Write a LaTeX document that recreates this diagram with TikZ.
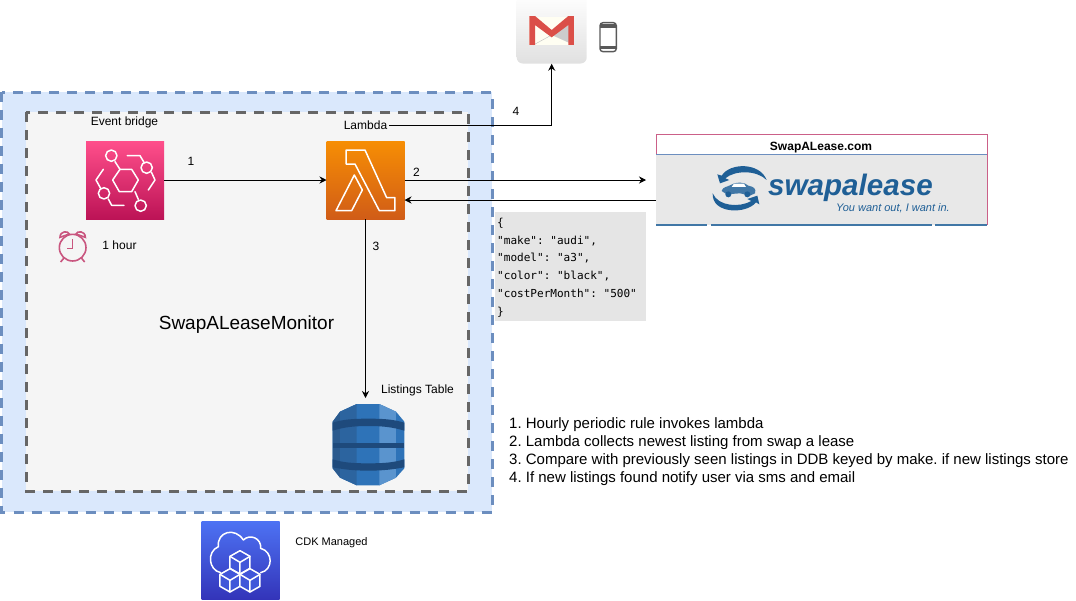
\documentclass[tikz,border=0pt]{standalone}
\usepackage{fontspec}
\usetikzlibrary{arrows.meta}
\setmainfont{Liberation Sans}
\newfontfamily\jsonfont{DejaVu Sans Mono}
\frenchspacing
\definecolor{outerfill}{HTML}{DAE8FC}
\definecolor{outerline}{HTML}{6C8EBF}
\definecolor{innerfill}{HTML}{F5F5F5}
\definecolor{innerline}{HTML}{666666}
\definecolor{clockpink}{HTML}{C9567F}
\definecolor{leaseblue}{HTML}{1F5F96}
\definecolor{bridgetop}{HTML}{FF4F8B}
\definecolor{bridgelow}{HTML}{BC1356}
\definecolor{lambdatop}{HTML}{F78E04}
\definecolor{lambdalow}{HTML}{D05C17}
\definecolor{cdktop}{HTML}{4D72F3}
\definecolor{cdklow}{HTML}{3334B9}
\definecolor{dbdark}{HTML}{2A5A8E}
\definecolor{dbmid}{HTML}{2E73B8}
\definecolor{dblight}{HTML}{5A94CE}
\definecolor{dbband}{HTML}{1E4A7C}
\definecolor{mailred}{HTML}{DB4F48}
\definecolor{sitepink}{HTML}{CB6088}
\tikzset{
  region/.style={line width=3pt,dash pattern=on 10pt off 8pt},
  iconbox/.style={minimum size=78pt,inner sep=0pt,outer sep=0pt},
  label/.style={font=\fontsize{12}{14}\selectfont,inner sep=0pt},
  flow/.style={-{Stealth[length=7pt,width=7pt]},line width=0.9pt},
  glyph/.style={draw=white,line width=1.5pt,line join=round,line cap=round},
  zoomed/.style={x=0.3333pt,y=-0.3333pt},
}
\begin{document}
\begin{tikzpicture}[x=1pt,y=-1pt]
    \useasboundingbox (0,0) rectangle (1076,600);

    % regions
    \draw[region,draw=outerline,fill=outerfill] (1.5,92) rectangle (492,512);
    \draw[region,draw=innerline,fill=innerfill] (26,112) rectangle (468,491);

    % event bridge
    \node[iconbox,top color=bridgetop,bottom color=bridgelow] (bridge) at (125,180) {};
    \begin{scope}[zoomed,shift={(40pt,-100pt)}]
      \draw[glyph] (240,208) -- (275,208) -- (295,240) -- (275,275) -- (238,275) -- (218,240) -- cycle;
      \draw[glyph] (214,167) circle (17);
      \draw[glyph] (320,203) circle (17);
      \draw[glyph] (192,280) circle (17);
      \draw[glyph] (302,317) circle (17);
      \draw[glyph] (225,185) -- (240,208);
      \draw[glyph] (285,275) -- (295,298);
      \draw[glyph] (262,167) -- (300,167) -- (312,187);
      \draw[glyph] (335,218) -- (345,240) -- (325,270);
      \draw[glyph] (190,208) -- (168,240) -- (182,265);
      \draw[glyph] (205,297) -- (215,316) -- (252,316);
    \end{scope}

    % alarm clock
    \begin{scope}[zoomed,shift={(40pt,-100pt)},draw=clockpink,line width=1.6pt]
      \draw (98,443) circle (40);
      \draw (98,418) -- (98,445) -- (80,445);
      \draw (60,412) .. controls (60,392) and (85,392) .. (88,402) -- cycle;
      \draw (136,412) .. controls (136,392) and (111,392) .. (108,402) -- cycle;
      \draw (72,474) -- (62,486);
      \draw (124,474) -- (134,486);
    \end{scope}

    % lambda
    \node[iconbox,top color=lambdatop,bottom color=lambdalow] (lambda) at (365.5,180) {};
    \begin{scope}[zoomed,shift={(310pt,-130pt)}]
      \draw[glyph] (108,60) -- (165,60) -- (230,203) -- (255,203) -- (255,242) -- (208,242) -- (135,102) -- (108,102) -- cycle;
      \draw[glyph] (133,135) -- (157,180) -- (125,242) -- (78,242) -- cycle;
    \end{scope}

    % listings table
    \coordinate (table) at (365.5,398);
    \begin{scope}[zoomed,shift={(310pt,-380pt)}]
      \fill[dbmid] (68,125) -- (90,95) -- (140,72) -- (208,72) -- (258,95) -- (283,125) -- (283,265) -- (258,293) -- (208,316) -- (140,316) -- (90,293) -- (68,265) -- cycle;
      \fill[dbdark] (68,125) -- (90,95) -- (90,293) -- (68,265) -- cycle;
      \fill[dbdark!60!dbmid] (90,95) -- (140,72) -- (140,316) -- (90,293) -- cycle;
      \fill[dblight] (208,72) -- (258,95) -- (258,293) -- (208,316) -- cycle;
      \fill[dbband] (68,128) .. controls (100,118) and (130,116) .. (175,116) .. controls (220,116) and (250,118) .. (283,128) -- (283,152) .. controls (250,142) and (220,138) .. (175,138) .. controls (130,138) and (100,142) .. (68,152) -- cycle;
      \fill[dbband] (68,188) -- (283,188) -- (283,204) -- (68,204) -- cycle;
      \fill[dbband] (68,238) .. controls (100,248) and (130,250) .. (175,250) .. controls (220,250) and (250,248) .. (283,238) -- (283,262) .. controls (250,268) and (220,272) .. (175,272) .. controls (130,272) and (100,268) .. (68,262) -- cycle;
    \end{scope}

    % cdk
    \node[iconbox,top color=cdktop,bottom color=cdklow] (cdk) at (240.5,560.5) {};
    \begin{scope}[zoomed,shift={(190pt,-510pt)}]
      \draw[glyph] (92,188) .. controls (55,180) and (50,125) .. (85,110) .. controls (80,65) and (135,50) .. (160,90) .. controls (180,70) and (215,85) .. (212,115) .. controls (250,125) and (250,180) .. (212,188);
      \foreach \cx/\cy in {150/157,120/211,180/211} {
        \fill[cdktop!55!cdklow,shift={(\cx,\cy)}] (0,-35) -- (30,-18) -- (30,18) -- (0,35) -- (-30,18) -- (-30,-18) -- cycle;
        \draw[glyph,shift={(\cx,\cy)}] (0,-35) -- (30,-18) -- (30,18) -- (0,35) -- (-30,18) -- (-30,-18) -- cycle;
        \draw[glyph,shift={(\cx,\cy)}] (-30,-18) -- (0,0) -- (30,-18) (0,0) -- (0,35);
      }
    \end{scope}

    % mail and phone
    \node[minimum width=70pt,minimum height=70pt,inner sep=0pt,rounded corners=6pt,top color=white,bottom color=black!12] (mail) at (551.7,28.5) {};
    \begin{scope}[zoomed,shift={(500pt,0pt)}]
      \fill[white!95!yellow] (88,50) rectangle (222,135);
      \fill[black!20] (222,65) -- (155,105) -- (222,135) -- cycle;
      \draw[black!25] (100,135) -- (155,105);
      \fill[mailred] (88,48) -- (105,48) -- (155,90) -- (205,48) -- (222,48) -- (222,135) -- (205,135) -- (205,75) -- (155,112) -- (105,75) -- (105,135) -- (88,135) -- cycle;
      \draw[black!65,line width=1.4pt,rounded corners=3pt] (300,68) rectangle (349,155);
      \draw[black!65,line width=3.4pt,rounded corners=2pt] (300,78) -- (349,78) (300,143) -- (349,143);
    \end{scope}

    % website
    \node[minimum width=331pt,minimum height=71pt,inner sep=0pt,fill=black!9] (site) at (821.5,189.5) {};
    \draw[draw=sitepink] (656,154) |- (987,134.5) -- (987,225);
    \draw[draw=outerline] (656,154.5) -- (987,154.5);
    \draw[draw=leaseblue!85,line width=1.2pt] (656,225) -- (707,225) (711,225) -- (932,225) (935,225) -- (987,225);
    \node[inner sep=0pt,font=\bfseries\fontsize{12}{14}\selectfont] (sitename) at (821,148) {SwapALease.com};
    \node[inner sep=0pt,anchor=base west,text=leaseblue,font=\bfseries\itshape\fontsize{29.6}{30}\selectfont] (brand) at (768,195) {swapalease};
    \node[inner sep=0pt,anchor=base east,text=leaseblue,font=\itshape\fontsize{11}{13}\selectfont] (slogan) at (950,211) {You want out, I want in.};
    \begin{scope}[zoomed,shift={(640pt,-125pt)}]
      \fill[leaseblue] (380,165) .. controls (360,112) and (270,112) .. (245,152) -- (232,148) -- (240,175) -- (268,165) -- (256,160) .. controls (285,135) and (350,135) .. (380,165) -- cycle;
      \fill[leaseblue] (218,205) .. controls (215,268) and (320,268) .. (348,232) -- (358,238) -- (352,212) -- (322,222) -- (334,228) .. controls (300,248) and (235,245) .. (218,205) -- cycle;
      \fill[leaseblue!85] (245,198) .. controls (248,185) and (262,186) .. (272,180) .. controls (285,170) and (315,170) .. (325,182) .. controls (340,185) and (350,190) .. (345,205) -- (330,212) -- (300,205) -- (260,208) -- cycle;
      \fill[leaseblue] (265,208) circle (9) (322,208) circle (9);
      \fill[white] (282,176) -- (312,176) -- (318,186) -- (275,186) -- cycle;
    \end{scope}

    % json
    \node[minimum width=151pt,minimum height=109pt,inner sep=0pt,fill=black!10] (record) at (570.5,266.5) {};
    \node[anchor=north west,inner sep=0pt,align=left,font=\jsonfont\fontsize{11.05}{17.9}\selectfont] (recordtext) at (497,217.5) {\{\\"make": "audi",\\"model": "a3",\\"color": "black",\\"costPerMonth": "500"\\\}};

    % labels
    \node[label] (bridgename) at (124.5,122) {Event bridge};
    \node[label] (lambdaname) at (365.5,125) {Lambda};
    \node[label] (tablename) at (417.5,390) {Listings Table};
    \node[label] (hour) at (119.5,245.5) {1 hour};
    \node[label,font=\fontsize{11}{13}\selectfont] (cdkname) at (331.5,542.5) {CDK Managed};
    \node[inner sep=0pt,font=\fontsize{19}{21}\selectfont] (monitor) at (246.5,324.5) {SwapALeaseMonitor};
    \node[label] (one) at (191,161) {1};
    \node[label] (two) at (416.5,172) {2};
    \node[label] (three) at (376,246.5) {3};
    \node[label] (four) at (516,111.5) {4};

    % steps
    \node[anchor=north west,inner sep=0pt,align=left,font=\fontsize{15}{18}\selectfont] (steps) at (509,417) {1. Hourly periodic rule invokes lambda\\2. Lambda collects newest listing from swap a lease\\3. Compare with previously seen listings in DDB keyed by make. if new listings store\\4. If new listings found notify user via sms and email};

    % connectors
    \coordinate (siteleft) at (646,180);
    \coordinate (back) at (656,200);
    \draw[flow] (bridge) -- (lambda);
    \draw[flow] (lambda.east |- siteleft) -- (siteleft);
    \draw[flow] (back) -- (lambda.east |- back);
    \draw[flow] (lambda) -- (table);
    \draw[flow] ([xshift=2pt]lambdaname.east) -| (mail.south);
\end{tikzpicture}
\end{document}
